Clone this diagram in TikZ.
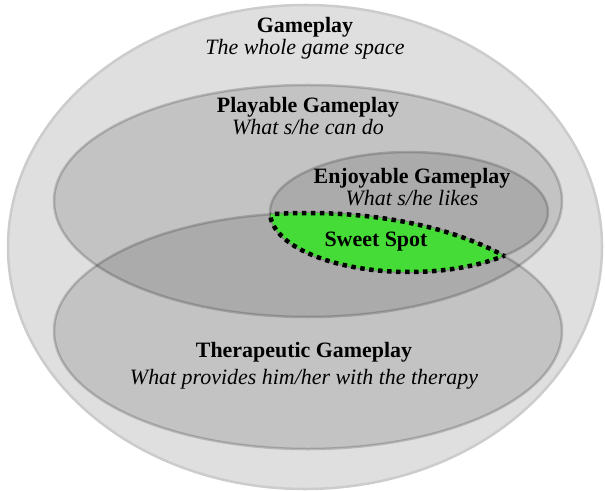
\documentclass[tikz,border=0pt]{standalone}
\usepackage{fontspec}
\setmainfont{Liberation Serif}
\usetikzlibrary{shapes.geometric}
\definecolor{sweetgreen}{RGB}{70,220,55}

\begin{document}
\begin{tikzpicture}[x=1bp, y=-1bp,
		set/.style = {ellipse, inner sep=0pt, fill=black, fill opacity=0.12,
			draw=black, draw opacity=0.18, line width=2.5bp},
		caption/.style = {align=center, inner sep=0pt, font=\fontsize{22}{22.5}\selectfont},
		sweetline/.style = {line width=4.5bp, dash pattern=on 4.5bp off 4.5bp}]

		\useasboundingbox (0,0) rectangle (605,491);

		% Whole game space
		\node[ellipse, inner sep=0pt, minimum width=594bp, minimum height=484bp,
			fill=gray!25, draw=gray!40, line width=2.5bp] (game) at (305,247) {};

		% Playable, therapeutic and enjoyable sets
		\node[set, minimum width=508bp, minimum height=232bp] (play) at (308,201) {};
		\node[set, minimum width=508bp, minimum height=236bp] (therapy) at (308,331) {};
		\node[set, minimum width=278bp, minimum height=120bp] (enjoy) at (409,212) {};

		% Sweet spot
		\begin{scope}
			\clip (therapy.center) ellipse [x radius=254, y radius=118];
			\fill[sweetgreen] (enjoy.center) ellipse [x radius=139, y radius=60];
			\draw[sweetline] (enjoy.center) ellipse [x radius=139, y radius=60];
		\end{scope}
		\begin{scope}
			\clip (enjoy.center) ellipse [x radius=139, y radius=60];
			\draw[sweetline] (therapy.center) ellipse [x radius=254, y radius=118];
		\end{scope}

		% Labels
		\node[caption] (gametext) at (305,38) {\textbf{Gameplay}\\\textit{The whole game space}};
		\node[caption] (playtext) at (308,116) {\textbf{Playable Gameplay}\\\textit{What s/he can do}};
		\node[caption] (enjoytext) at (412,187) {\textbf{Enjoyable Gameplay}\\\textit{What s/he likes}};
		\node[caption] (sweettext) at (376,242) {\textbf{Sweet Spot}};
		\node[caption] (therapytext) at (304,366) {\textbf{Therapeutic Gameplay}\\[5bp]\textit{What provides him/her with the therapy}};
\end{tikzpicture}
\end{document}
